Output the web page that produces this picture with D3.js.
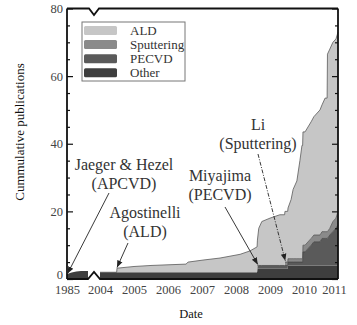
<!DOCTYPE html>
<html>
<head>
<meta charset="utf-8">
<script src="https://cdn.jsdelivr.net/npm/d3@7"></script>
<style>
  html, body { margin: 0; padding: 0; background: #fff; }
  svg { display: block; }
  text { font-family: "Liberation Serif", "Times New Roman", serif; }
</style>
</head>
<body>
<svg id="chart" width="357" height="325"></svg>
<script>
// Series keys, bottom to top of the stack
const seriesKeys = ["Other", "PECVD", "Sputtering", "ALD"];
const legendKeys = ["ALD", "Sputtering", "PECVD", "Other"];

// Early period (before the axis break): only the APCVD work
const earlyDates = [1985, 1989, 1993, 1997, 2003];
const earlyOther = [1.4, 1.9, 2.2, 2.4, 2.4];

// 2004 onward: cumulative publication counts per technique
const dates = [2004.00, 2004.49, 2004.50, 2005.00, 2005.50, 2006.00, 2006.53, 2006.59, 2007.03, 2007.53,
               2008.12, 2008.41, 2008.62, 2008.63, 2008.67, 2008.76, 2009.00, 2009.29, 2009.43, 2009.44,
               2009.52, 2009.53, 2009.62, 2009.68, 2009.79, 2009.88, 2009.94, 2009.96, 2009.97, 2010.03,
               2010.21, 2010.29, 2010.47, 2010.53, 2010.62, 2010.68, 2010.69, 2010.76, 2010.85, 2010.94, 2011.00];
const other      = [2, 2, 2, 2, 2, 2, 2, 2, 2, 2,
                    2, 2, 2, 3, 3, 3, 3, 3, 3, 3,
                    3, 4, 4, 4, 4, 4, 4, 4, 4, 4,
                    4, 4, 4, 4, 4, 4, 4, 4, 4, 4, 4];
const pecvd      = [0, 0, 0, 0, 0, 0, 0, 0, 0, 0,
                    0, 0, 0, 1, 1, 1, 1, 1, 1, 1,
                    1, 1, 1, 1, 1, 1, 1, 1, 4, 4,
                    6, 7, 7, 8, 8, 8, 8, 9, 10, 11, 12];
const sputtering = [0, 0, 0, 0, 0, 0, 0, 0, 0, 0,
                    0, 0, 0, 0, 0, 0, 0, 0, 0, 1,
                    1, 1, 1, 1, 1, 1, 1, 1, 2, 2,
                    2, 2, 2, 2, 2, 2, 2, 2, 3, 3, 4];
const ald        = [0, 0, 1.2, 1.7, 2.0, 2.2, 2.4, 3.0, 3.6, 4.2,
                    5.3, 6.3, 7.5, 7.5, 11, 13, 14, 15, 15, 15,
                    15, 15, 17.5, 20.5, 23, 29, 33.5, 33.5, 33.5, 33.5,
                    34.5, 35, 37, 37.5, 39.5, 39.5, 52.5, 53, 53, 53, 53];

// Axis ticks
const xTickYears = [1985, 2004, 2005, 2006, 2007, 2008, 2009, 2010, 2011];
const yMajorTicks = [0, 20, 40, 60, 80];
const yMinorTicks = [5, 10, 15, 25, 30, 35, 45, 50, 55, 65, 70, 75];

// Annotations: label lines, label position, arrow start, arrow tip (date, value)
const noteLabels = [
  { lines: ["Jaeger & Hezel", "(APCVD)"], at: [124, 170], from: [109, 193], to: [1985.5, 1.6], dashed: false },
  { lines: ["Agostinelli", "(ALD)"], at: [145, 218], from: [128, 243], to: [2004.5, 3.4], dashed: false },
  { lines: ["Miyajima", "(PECVD)"], at: [220, 181], from: [225, 207], to: [2008.64, 4.3], dashed: false },
  { lines: ["Li", "(Sputtering)"], at: [258, 130], from: [258, 154], to: [2009.45, 5.4], dashed: true }
];

const colors = { ALD: "#c6c6c6", Sputtering: "#8a8a8a", PECVD: "#5a5a5a", Other: "#3e3e3e" };
const edgeColors = { ALD: "#5a5a5a", Sputtering: "#555", PECVD: "#444", Other: "#2e2e2e" };

const svg = d3.select("#chart");
const plotLeft = 67, plotRight = 338, plotTop = 8.5, plotBottom = 279;

// Broken time axis: 1985 segment, gap, then 2004-2011
const x = d3.scaleLinear().domain([1985, 2003, 2004, 2011]).range([plotLeft, 88, 100, plotRight]);
const y = d3.scaleLinear().domain([0, 80]).range([plotBottom, plotTop]);

const rows = dates.map((d, i) => ({ date: d, Other: other[i], PECVD: pecvd[i], Sputtering: sputtering[i], ALD: ald[i] }));
const stacked = d3.stack().keys(seriesKeys)(rows);

const area = d3.area()
  .x(d => x(d.data.date))
  .y0(d => y(d[0]))
  .y1(d => y(d[1]));
const topLine = d3.line()
  .x(d => x(d.data.date))
  .y(d => y(d[1]));

const plot = svg.append("g");
plot.selectAll("path.layer").data(stacked).join("path")
  .attr("class", "layer")
  .attr("d", area)
  .attr("fill", s => colors[s.key]);
plot.selectAll("path.edge").data(stacked.filter(s => s.key !== "Other")).join("path")
  .attr("class", "edge")
  .attr("d", s => topLine(s.filter(d => d[1] - d[0] > 0 || s.key === "ALD")))
  .attr("fill", "none")
  .attr("stroke", s => edgeColors[s.key])
  .attr("stroke-width", 0.8);

// Early segment
const earlyRows = earlyDates.map((d, i) => ({ date: d, v: earlyOther[i] }));
plot.append("path")
  .datum(earlyRows)
  .attr("d", d3.area().curve(d3.curveMonotoneX).x(d => x(d.date)).y0(y(0)).y1(d => y(d.v)))
  .attr("fill", colors.Other);

// Frame with break marks
const brk = x(2003.5);
svg.append("path")
  .attr("d", `M${plotLeft},${plotTop}L${brk - 5},${plotTop}L${brk},${plotTop + 6.5}L${brk + 5},${plotTop}L${plotRight},${plotTop}`
           + `M${plotLeft},${plotBottom}L${brk - 6},${plotBottom}L${brk},${plotBottom - 7}L${brk + 6},${plotBottom}L${plotRight},${plotBottom}`
           + `M${plotLeft},${plotTop}L${plotLeft},${plotBottom}M${plotRight},${plotTop}L${plotRight},${plotBottom}`)
  .attr("fill", "none")
  .attr("stroke", "#111")
  .attr("stroke-width", 1.8)
  .attr("stroke-linejoin", "miter");

// Y axes (inward ticks on both sides)
const yAxisL = svg.append("g").attr("transform", `translate(${plotLeft},0)`)
  .call(d3.axisLeft(y).tickValues(yMajorTicks).tickSizeInner(-6).tickSizeOuter(0).tickPadding(4));
svg.append("g").attr("transform", `translate(${plotLeft},0)`)
  .call(d3.axisLeft(y).tickValues(yMinorTicks).tickSizeInner(-3).tickSizeOuter(0).tickFormat(""));
svg.append("g").attr("transform", `translate(${plotRight},0)`)
  .call(d3.axisRight(y).tickValues(yMajorTicks).tickSizeInner(-6).tickSizeOuter(0).tickFormat(""));
svg.append("g").attr("transform", `translate(${plotRight},0)`)
  .call(d3.axisRight(y).tickValues(yMinorTicks).tickSizeInner(-3).tickSizeOuter(0).tickFormat(""));
svg.selectAll(".domain").remove();
svg.selectAll(".tick line").attr("stroke", "#111").attr("stroke-width", 1.2);
yAxisL.selectAll("text")
  .attr("font-family", "'Liberation Serif', 'Times New Roman', serif")
  .attr("font-size", 12.5).attr("fill", "#444")
  .attr("y", d => d === 0 ? -5 : 0);

// X axis labels (no tick marks)
const xAxis = svg.append("g").attr("transform", `translate(0,${plotBottom})`)
  .call(d3.axisBottom(x).tickValues(xTickYears).tickFormat(d3.format("d")).tickSize(0).tickPadding(6));
xAxis.select(".domain").remove();
xAxis.selectAll("text")
  .attr("font-family", "'Liberation Serif', 'Times New Roman', serif")
  .attr("font-size", 12.5).attr("fill", "#444")
  .attr("dx", d => d === 2011 ? -4 : 0);

// Axis titles
svg.append("text")
  .attr("transform", "translate(24,132) rotate(-90)")
  .attr("text-anchor", "middle")
  .attr("font-size", 13).attr("fill", "#111")
  .text("Cummulative publications");
svg.append("text")
  .attr("x", 191).attr("y", 318)
  .attr("text-anchor", "middle")
  .attr("font-size", 12.5).attr("fill", "#111")
  .text("Date");

// Legend
const lg = svg.append("g");
lg.append("rect").attr("x", 82).attr("y", 22).attr("width", 103).attr("height", 59)
  .attr("fill", "#fff").attr("stroke", "#777").attr("stroke-width", 1);
legendKeys.forEach((k, i) => {
  const ty = 26 + i * 14.1;
  lg.append("rect").attr("x", 84).attr("y", ty).attr("width", 33).attr("height", 9)
    .attr("rx", 1.5).attr("fill", colors[k]);
  lg.append("text").attr("x", 130).attr("y", ty + 8.5)
    .attr("font-size", 13).attr("fill", "#333").text(k);
});

// Annotation arrows and labels
const defs = svg.append("defs");
defs.append("marker").attr("id", "head")
  .attr("viewBox", "0 0 10 10").attr("refX", 10).attr("refY", 5)
  .attr("markerWidth", 7).attr("markerHeight", 7).attr("markerUnits", "userSpaceOnUse")
  .attr("orient", "auto")
  .append("path").attr("d", "M0,1L10,5L0,9Z").attr("fill", "#222");

noteLabels.forEach(n => {
  svg.append("line")
    .attr("x1", n.from[0]).attr("y1", n.from[1])
    .attr("x2", x(n.to[0])).attr("y2", y(n.to[1]))
    .attr("stroke", "#222").attr("stroke-width", 0.9)
    .attr("stroke-dasharray", n.dashed ? "4,1.5,1,1.5" : null)
    .attr("marker-end", "url(#head)");
  n.lines.forEach((t, j) => {
    svg.append("text")
      .attr("x", n.at[0]).attr("y", n.at[1] + j * 19)
      .attr("text-anchor", "middle")
      .attr("font-size", 16).attr("fill", "#333")
      .text(t);
  });
});
</script>
</body>
</html>
